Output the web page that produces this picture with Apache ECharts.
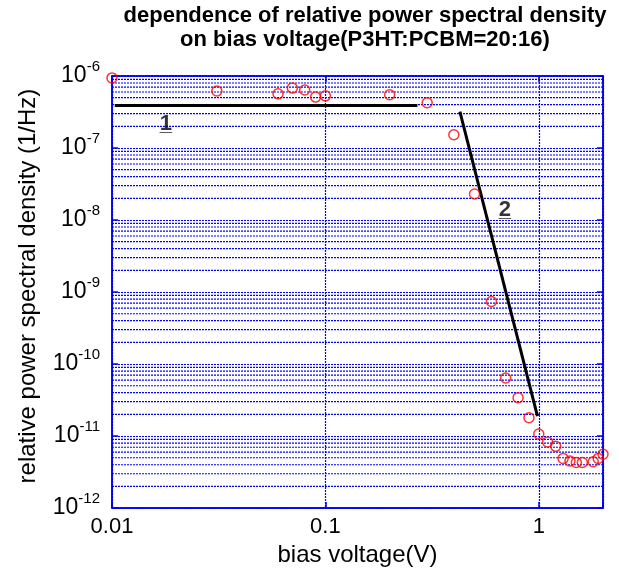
<!DOCTYPE html>
<html>
<head>
<meta charset="utf-8">
<script src="https://cdn.jsdelivr.net/npm/echarts@6/dist/echarts.min.js"></script>
<style>
html,body{margin:0;padding:0;background:#fff}
#view{width:619px;height:572px}
</style>
</head>
<body>
<div id="view"></div>
<script>
const voltage = [0.01, 0.031, 0.06, 0.07, 0.08, 0.09, 0.1, 0.2, 0.3, 0.4, 0.5, 0.6, 0.7, 0.8, 0.9, 1.0, 1.1, 1.2, 1.3, 1.4, 1.5, 1.6, 1.8, 1.9, 2.0];
const psd = [9.4e-7, 6.2e-7, 5.65e-7, 6.8e-7, 6.4e-7, 5.1e-7, 5.3e-7, 5.5e-7, 4.25e-7, 1.53e-7, 2.3e-8, 7.4e-10, 6.4e-11, 3.4e-11, 1.8e-11, 1.07e-11, 8.3e-12, 7.2e-12, 4.9e-12, 4.5e-12, 4.3e-12, 4.3e-12, 4.4e-12, 4.9e-12, 5.6e-12];

// the two straight guide lines and their labels
const fit1 = [[0.0103, 3.9e-7], [0.27, 3.9e-7]];
const fit2 = [[0.427, 3.2e-7], [0.986, 1.9e-11]];
const fitNames = ['1', '2'];
const fitLabelPos = [[0.0179, 2.18e-7], [0.693, 1.37e-8]];

// axes
const xMin = 0.01, xMax = 2;
const yMin = 1e-12, yMax = 1e-6;
const yDecades = [-12, -11, -10, -9, -8, -7];
const minorSteps = [2, 3, 4, 5, 6, 7, 8, 9];

const blue = '#0000ee';
const gridBlue = '#0000ff';
const font = 'Liberation Sans, Arial, sans-serif';

let yMinor = [];
yDecades.forEach(e => minorSteps.forEach(m => yMinor.push(m * Math.pow(10, e))));

function isDecade(v) {
    let l = Math.log10(v);
    return Math.abs(l - Math.round(l)) < 1e-6;
}

let myChart = echarts.init(document.getElementById('view'));

let gridLine = {color: gridBlue, type: [2, 1], width: 1.2};

let axisCommon = {
    type: 'log',
    logBase: 10,
    axisLine: {show: true, lineStyle: {color: blue, width: 1.5}},
    axisTick: {show: true, inside: true, length: 6, lineStyle: {color: blue, width: 1.5}},
};

// minor horizontal grid lines (2..9 in each decade), one thin series each
let minorGrid = yMinor.map(v => ({
    name: 'minor grid',
    type: 'line',
    data: [[xMin, v], [xMax, v]],
    symbol: 'none',
    silent: true,
    lineStyle: gridLine,
    z: 1
}));

let style = {
    animation: false,
    title: {
        text: 'dependence of relative power spectral density\non bias voltage(P3HT:PCBM=20:16)',
        left: 360,
        top: -1,
        textAlign: 'center',
        textStyle: {fontFamily: font, fontSize: 22, fontWeight: 'bold', lineHeight: 24, color: '#000'}
    },
    grid: {
        left: 112, top: 76, right: 16, bottom: 61,
        show: true, borderColor: blue, borderWidth: 1.5,
        containLabel: false
    },
    xAxis: [
        Object.assign({}, axisCommon, {
            min: xMin, max: xMax,
            position: 'bottom',
            name: 'bias voltage(V)',
            nameLocation: 'middle',
            nameGap: 32,
            nameTextStyle: {fontFamily: font, fontSize: 24, color: '#000'},
            axisLabel: {
                fontFamily: font, fontSize: 22, color: '#000', margin: 8,
                formatter: v => {
                    if (!isDecade(v)) return '';
                    let e = Math.round(Math.log10(v));
                    return e >= 0 ? String(Math.pow(10, e)) : Math.pow(10, e).toFixed(-e);
                }
            },
            splitLine: {show: true, lineStyle: gridLine}
        }),
        Object.assign({}, axisCommon, {
            min: xMin, max: xMax,
            position: 'top',
            axisLabel: {show: false},
            splitLine: {show: false}
        })
    ],
    yAxis: [
        Object.assign({}, axisCommon, {
            min: yMin, max: yMax,
            position: 'left',
            name: 'relative power spectral density (1/Hz)',
            nameLocation: 'middle',
            nameGap: 72,
            nameTextStyle: {fontFamily: font, fontSize: 24, color: '#000', padding: [0, 0, 0, 12]},
            axisLabel: {
                margin: 12,
                formatter: v => isDecade(v) ? '{b|10}{s|' + Math.round(Math.log10(v)) + '}' : '',
                rich: {
                    b: {fontFamily: font, fontSize: 23, color: '#000'},
                    s: {fontFamily: font, fontSize: 15, color: '#000', padding: [0, 0, 18, 0]}
                }
            },
            splitLine: {show: true, lineStyle: gridLine}
        }),
        Object.assign({}, axisCommon, {
            min: yMin, max: yMax,
            position: 'right',
            axisLabel: {show: false},
            splitLine: {show: false}
        })
    ],
    series: minorGrid.concat([
        {
            name: 'fit 1',
            type: 'line',
            data: fit1,
            symbol: 'none',
            lineStyle: {color: '#000', width: 3},
            z: 3
        },
        {
            name: 'fit 2',
            type: 'line',
            data: fit2,
            symbol: 'none',
            lineStyle: {color: '#000', width: 3},
            z: 3
        },
        {
            name: 'psd',
            type: 'scatter',
            data: voltage.map((v, i) => [v, psd[i]]),
            symbol: 'circle',
            symbolSize: 10,
            clip: false,
            itemStyle: {color: 'rgba(255,255,255,0)', borderColor: '#ff0000', borderWidth: 1.5},
            z: 4
        },
        {
            name: 'fit labels',
            type: 'scatter',
            data: fitLabelPos.map((p, i) => ({name: fitNames[i], value: p})),
            symbolSize: 0,
            silent: true,
            label: {
                show: true, position: 'inside', formatter: p => p.name,
                fontFamily: font, fontSize: 22, fontWeight: 'bold', color: '#000'
            },
            z: 5
        },
        {
            name: 'fit label underline',
            type: 'scatter',
            data: fitLabelPos.map((p, i) => ({name: fitNames[i], value: p})),
            symbolSize: 0,
            silent: true,
            label: {
                show: true, position: 'inside', formatter: '_',
                fontFamily: font, fontSize: 22, fontWeight: 'bold', color: '#000'
            },
            z: 5
        }
    ])
};

myChart.setOption(style);
</script>
</body>
</html>
